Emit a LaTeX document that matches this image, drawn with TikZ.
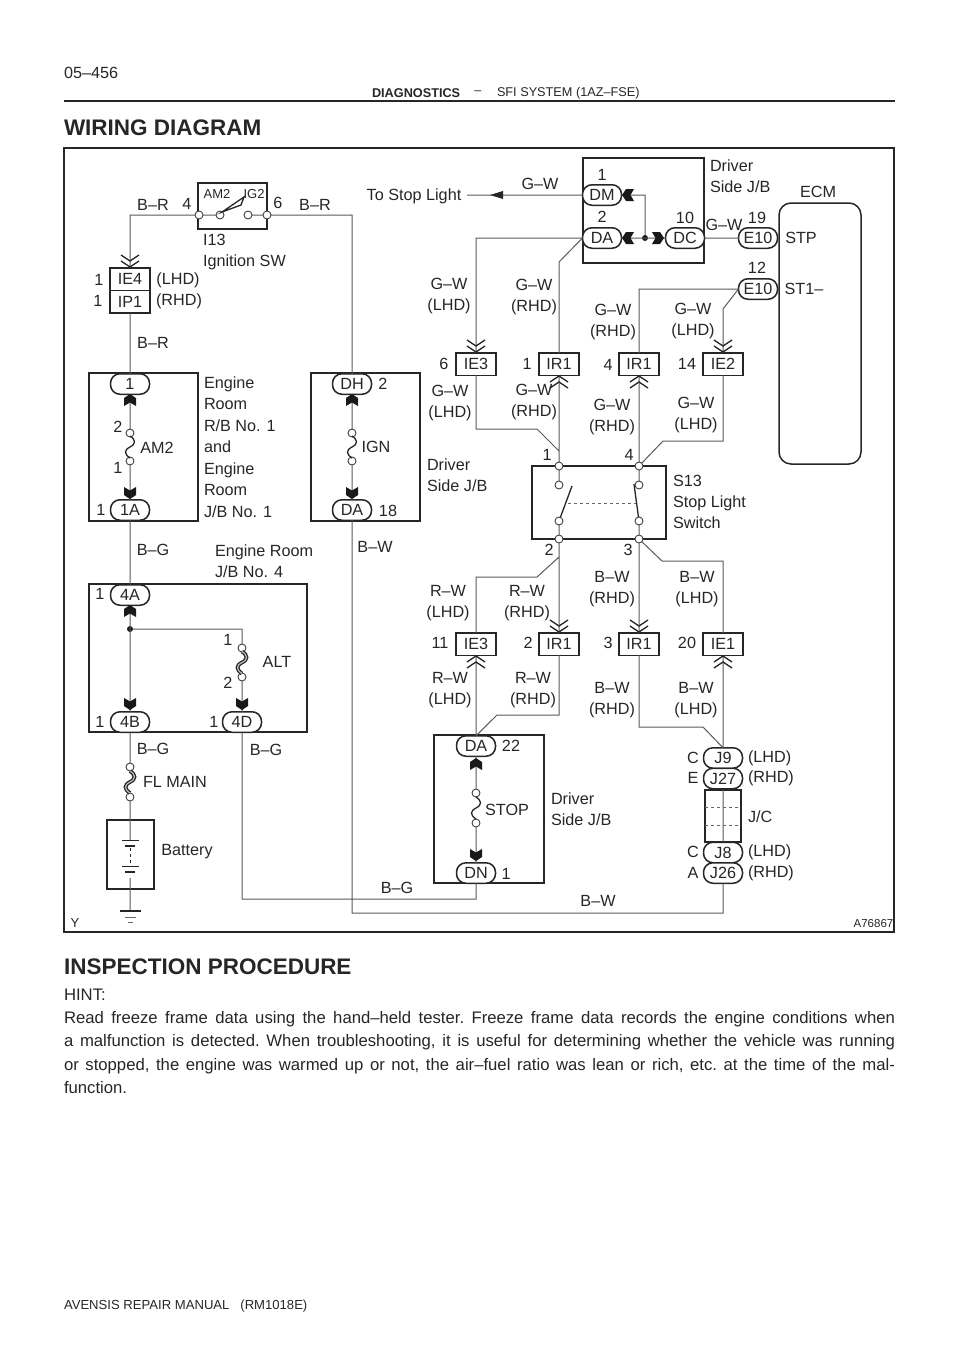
\documentclass[tikz,border=0pt]{standalone}
\usepackage{fontspec}
\setmainfont{Liberation Sans}
\usetikzlibrary{positioning}

\begin{document}
\begin{tikzpicture}[x=1pt, y=-1pt,
    every node/.style={text=black!85, inner sep=0pt, outer sep=0pt},
    lbl/.style={font=\fontsize{16.2}{21}\selectfont, align=center},
    lbll/.style={lbl, anchor=west, align=left},
    tiny/.style={font=\fontsize{13}{15}\selectfont},
    wire/.style={draw=black!65, line width=1pt},
    jbox/.style={rectangle, draw=black!85, line width=1.5pt},
    conn/.style={rectangle, draw=black!85, line width=1.5pt, fill=white, minimum width=40pt, minimum height=22.5pt, font=\fontsize{16.2}{18}\selectfont},
    pill/.style={rectangle, rounded corners=9.5pt, draw=black!85, line width=1.5pt, fill=white, minimum width=39pt, minimum height=20.5pt, font=\fontsize{16.2}{18}\selectfont},
    term/.style={circle, draw=black!75, line width=0.9pt, fill=white, minimum size=8pt},
    pics/chev/.style={code={
        \draw[black!85, line width=1.3pt] (-9,-12) -- (0,-6) -- (9,-12);
        \draw[black!85, line width=1.3pt] (-9,-6) -- (0,0) -- (9,-6);}},
    pics/plug/.style={code={
        \fill[black!90] (0,-6) -- (6,-2) -- (6,6) -- (0,2.5) -- (-6,6) -- (-6,-2) -- cycle;}},
    pics/fuse/.style={code={
        \draw[black!85, line width=1.3pt] (0,-11) .. controls (6,-7) and (6,-3) .. (0,0) .. controls (-6,3) and (-6,7) .. (0,11);}},
    pics/heavyfuse/.style={code={
        \draw[black!85, double=black!25, double distance=1.2pt, line width=1.3pt] (0,-11) .. controls (6,-7) and (6,-3) .. (0,0) .. controls (-6,3) and (-6,7) .. (0,11);}}
    ]

    \useasboundingbox (0,0) rectangle (960,1358);

    % page header
    \node[anchor=west, font=\fontsize{16.2}{18}\selectfont] (pagenum) at (64,73) {05–456};
    \node[anchor=west, font=\fontsize{12.7}{14}\selectfont\bfseries] (hdrA) at (372,93) {DIAGNOSTICS};
    \node[font=\fontsize{12.7}{14}\selectfont] (hdrB) at (478,93) {–};
    \node[anchor=west, font=\fontsize{12.7}{14}\selectfont] (hdrC) at (497,93) {SFI SYSTEM (1AZ–FSE)};
    \coordinate (ruleL) at (64,101);
    \coordinate (ruleR) at (895,101);
    \draw[black!85, line width=1.2pt] (ruleL) -- (ruleR);
    \node[anchor=west, font=\fontsize{22.5}{26}\selectfont\bfseries] (title) at (64,128) {WIRING DIAGRAM};

    % frame and boxes
    \node[jbox, minimum width=830pt, minimum height=784pt] (frame) at (479,540) {};
    \node[jbox, minimum width=69pt, minimum height=46pt] (swbox) at (232.5,206) {};
    \node[jbox, minimum width=109pt, minimum height=148pt] (rbone) at (143.5,447) {};
    \node[jbox, minimum width=109pt, minimum height=148pt] (ignbox) at (365.5,447) {};
    \node[jbox, minimum width=218pt, minimum height=148pt] (jbfour) at (198,658) {};
    \node[jbox, minimum width=47pt, minimum height=69pt] (batbox) at (130.5,854.5) {};
    \node[jbox, minimum width=121pt, minimum height=105pt] (dsjbA) at (643.5,210.5) {};
    \node[jbox, minimum width=134pt, minimum height=73pt] (s13box) at (599,502.5) {};
    \node[jbox, minimum width=110pt, minimum height=148pt] (dsjbB) at (489,809) {};
    \node[jbox, minimum width=36pt, minimum height=52pt] (jcbox) at (723,816) {};
    \node[jbox, rounded corners=12pt, minimum width=82pt, minimum height=261pt] (ecm) at (820,333.5) {};

    % connectors
    \node[conn] (ie4) at (130,279) {IE4};
    \node[conn] (ip1) at (130,301.5) {IP1};
    \node[conn] (ie3a) at (476,364) {IE3};
    \node[conn] (ir1a) at (559,364) {IR1};
    \node[conn] (ir1b) at (639,364) {IR1};
    \node[conn] (ie2) at (723,364) {IE2};
    \node[conn] (ie3b) at (476,644) {IE3};
    \node[conn] (ir1c) at (559,644) {IR1};
    \node[conn] (ir1d) at (639,644) {IR1};
    \node[conn] (ie1) at (723,644) {IE1};

    \node[pill] (pone) at (130,384) {1};
    \node[pill] (ponea) at (130,510) {1A};
    \node[pill] (pdh) at (352,384) {DH};
    \node[pill] (pdaign) at (352,510) {DA};
    \node[pill] (pfoura) at (130,595) {4A};
    \node[pill] (pfourb) at (130,722) {4B};
    \node[pill] (pfourd) at (242,722) {4D};
    \node[pill] (pdm) at (602,195) {DM};
    \node[pill] (pda) at (602,238) {DA};
    \node[pill] (pdc) at (685,238) {DC};
    \node[pill] (petop) at (758,238) {E10};
    \node[pill] (pebot) at (758,289) {E10};
    \node[pill] (pdastop) at (476,746) {DA};
    \node[pill] (pdn) at (476,873) {DN};
    \node[pill] (pjnine) at (723,758) {J9};
    \node[pill] (pjtw) at (723,778.5) {J27};
    \node[pill] (pjeight) at (723,852.5) {J8};
    \node[pill] (pjsix) at (723,873) {J26};

    % terminals
    \node[term] (swa) at (199,215) {};
    \node[term] (swb) at (220,215) {};
    \node[term] (swc) at (248,215) {};
    \node[term] (swd) at (267,215) {};
    \node[term] (fam) at (130,433) {};
    \node[term] (fama) at (130,461) {};
    \node[term] (fig) at (352,433) {};
    \node[term] (figa) at (352,461) {};
    \node[term] (falt) at (242,648) {};
    \node[term] (falta) at (242,677) {};
    \node[term] (ffl) at (130,767) {};
    \node[term] (ffla) at (130,797) {};
    \node[term] (fst) at (476,793) {};
    \node[term] (fsta) at (476,823) {};
    \node[term] (sone) at (559,466) {};
    \node[term] (sfour) at (639,466) {};
    \node[term] (stwo) at (559,539) {};
    \node[term] (sthree) at (639,539) {};
    \node[term] (sonei) at (559,485) {};
    \node[term] (sfouri) at (639,485) {};
    \node[term] (stwoi) at (559,521) {};
    \node[term] (sthreei) at (639,521) {};
    \node[circle, fill=black!90, minimum size=6pt] (dotalt) at (130,629) {};
    \node[circle, fill=black!90, minimum size=6pt] (dotdj) at (645,238) {};

    % free ends and bends
    \coordinate (stopend) at (467,195);
    \coordinate (bendda) at (559,262);
    \coordinate (bendeb) at (723,309);
    \coordinate (bendiea) at (537,429);
    \coordinate (bendieb) at (476,429);
    \coordinate (bendiee) at (559,451);
    \coordinate (bendiec) at (663,441);
    \coordinate (bendied) at (723,441);
    \coordinate (bendrwa) at (559,557);
    \coordinate (bendrwb) at (537,577);
    \coordinate (bendbwa) at (662,561);
    \coordinate (bendrwc) at (559,715);
    \coordinate (bendrwd) at (497,715);
    \coordinate (bendbwb) at (639,727);
    \coordinate (bendbwc) at (703,727);
    \coordinate (corbg) at (476,899);
    \coordinate (corbw) at (723,913);
    \coordinate (batA) at (130,840);
    \coordinate (batB) at (130,878);
    \coordinate (gnd) at (130,911);

    % wires
    \path[wire]
    (swa) -| (ie4.north)
    (ip1.south) -- (pone.north)
    (swd) -| (pdh.north)
    (swa) -- (swb)
    (swc) -- (swd)
    (pone.south) -- (fam)
    (fama) -- (ponea.north)
    (pdh.south) -- (fig)
    (figa) -- (pdaign.north)
    (ponea.south) -- (pfoura.north)
    (pfoura.south) -- (pfourb.north)
    (dotalt) -| (falt)
    (falta) -- (pfourd.north)
    (pfourb.south) -- (ffl)
    (ffla) -- (batA)
    (batB) -- (gnd)
    (pfourd.south) |- (corbg) -- (pdn.south)
    (pdaign.south) |- (corbw) -- (pjsix.south)
    (pdm.west) -- (stopend)
    (pdm.east) -| (dotdj)
    (pda.east) -- (pdc.west)
    (pdc.east) -- (petop.west)
    (pda.west) -| (ie3a.north)
    (pda.west) -- (bendda) -- (ir1a.north)
    (pebot.west) -| (ir1b.north)
    (pebot.west) -- (bendeb) -- (ie2.north)
    (ie3a.south) -- (bendieb) -- (bendiea) -- (bendiee)
    (ir1a.south) -- (sone)
    (ir1b.south) -- (sfour)
    (ie2.south) -- (bendied) -- (bendiec) -- (sfour)
    (sone) -- (sonei)
    (sfour) -- (sfouri)
    (stwoi) -- (stwo)
    (sthreei) -- (sthree)
    (stwo) -- (ir1c.north)
    (bendrwa) -- (bendrwb) -| (ie3b.north)
    (sthree) -- (ir1d.north)
    (sthree) -- (bendbwa) -| (ie1.north)
    (ie3b.south) -- (pdastop.north)
    (ir1c.south) -- (bendrwc) -- (bendrwd) -- (pdastop.north)
    (ie1.south) -- (pjnine.north)
    (ir1d.south) -- (bendbwb) -- (bendbwc) -- (pjnine.north)
    (pdastop.south) -- (fst)
    (fsta) -- (pdn.north)
    (jcbox.north) -- (jcbox.south);

    % ignition lever and stop light arrow
    \draw[black!85, line width=1.3pt, fill=white] (222,212) -- (244,197) -- (241,205) -- cycle;
    \fill[black!85] (490,195) -- (503,191) -- (503,199) -- cycle;

    % stop light switch
    \draw[black!85, line width=1.3pt] (stwoi) -- (572,486);
    \draw[black!85, line width=1.3pt] (sthreei) -- (634,484);
    \draw[black!60, line width=0.9pt, dashed] (568,503) -- (636,503);

    % junction connector dashes
    \draw[black!60, line width=0.9pt, dashed] (jcbox.west |- 0,807) -- (jcbox.east |- 0,807);
    \draw[black!60, line width=0.9pt, dashed] (jcbox.west |- 0,825) -- (jcbox.east |- 0,825);

    % battery and ground
    \draw[black!85, line width=1pt] (122,840) -- (139,840) (122,866) -- (139,866);
    \draw[black!85, line width=2pt] (125,846) -- (135,846) (125,872) -- (135,872);
    \fill[white] (128,841) rectangle (132,845);
    \draw[black!85, line width=0.8pt, dashed] (130,848) -- (130,864);
    \draw[black!85, line width=1.6pt] (120,911) -- (141,911);
    \draw[black!60, line width=0.8pt] (125,917) -- (136,917) (128,922) -- (133,922);

    % fuses
    \pic at (130,447) {fuse};
    \pic at (352,447) {fuse};
    \pic at (476,808) {fuse};
    \pic at (242,662.5) {heavyfuse};
    \pic at (130,782) {heavyfuse};

    % terminal tips of the fuse boxes
    \pic at (130,400) {plug};
    \pic[rotate=180] at (130,493) {plug};
    \pic at (352,400) {plug};
    \pic[rotate=180] at (352,493) {plug};
    \pic at (130,611) {plug};
    \pic[rotate=180] at (130,704) {plug};
    \pic[rotate=180] at (242,704) {plug};
    \pic at (476,764) {plug};
    \pic[rotate=180] at (476,855) {plug};
    \pic[rotate=90] at (628,195) {plug};
    \pic[rotate=90] at (628,238) {plug};
    \pic[rotate=-90] at (658,238) {plug};

    % chevrons at the in-line connectors
    \pic at (130,267) {chev};
    \pic at (476,352) {chev};
    \pic at (723,352) {chev};
    \pic[rotate=180] at (559,376) {chev};
    \pic[rotate=180] at (639,376) {chev};
    \pic at (559,632) {chev};
    \pic at (639,632) {chev};
    \pic[rotate=180] at (476,656) {chev};
    \pic[rotate=180] at (723,656) {chev};

    % left hand labels
    \node[lbl] (lbrA) at (153,205) {B–R};
    \node[lbl] (lfour) at (187,204) {4};
    \node[lbl] (lsix) at (278,203) {6};
    \node[lbl] (lbrB) at (315,205) {B–R};
    \node[tiny] (lam) at (217,194) {AM2};
    \node[tiny] (lig) at (254,194) {IG2};
    \node[lbll] (lign) at (203,252) {I13\\Ignition SW};
    \node[lbl] (lonea) at (99,280) {1};
    \node[lbl] (loneb) at (98,301) {1};
    \node[lbl] (llhda) at (178,280) {(LHD)};
    \node[lbl] (lrhda) at (179,301) {(RHD)};
    \node[lbl] (lbrC) at (153,343) {B–R};
    \node[lbll, font=\fontsize{16.2}{21.5}\selectfont] (lrbone) at (204,447) {Engine\\Room\\R/B No. 1\\and\\Engine\\Room\\J/B No. 1};
    \node[lbl] (ltwoa) at (118,427) {2};
    \node[lbl] (lonec) at (118,468) {1};
    \node[lbl] (lamf) at (157,448) {AM2};
    \node[lbl] (loned) at (101,510) {1};
    \node[lbl] (ltwob) at (383,384) {2};
    \node[lbl] (ligf) at (376,447) {IGN};
    \node[lbl] (lei) at (388,511) {18};
    \node[lbll] (ldsa) at (427,475.5) {Driver\\Side J/B};
    \node[lbl] (lbgA) at (153,550) {B–G};
    \node[lbll] (ljbf) at (215,561.5) {Engine Room\\J/B No. 4};
    \node[lbl] (lbwA) at (375,547) {B–W};
    \node[lbl] (lonee) at (100,594) {1};
    \node[lbl] (lonef) at (228,640) {1};
    \node[lbl] (laltf) at (277,662) {ALT};
    \node[lbl] (ltwoc) at (228,683) {2};
    \node[lbl] (loneg) at (100,722) {1};
    \node[lbl] (loneh) at (214,722) {1};
    \node[lbl] (lbgB) at (153,749) {B–G};
    \node[lbl] (lbgC) at (266,750) {B–G};
    \node[lbl] (lfl) at (175,782) {FL MAIN};
    \node[lbl] (lbat) at (187,852) {Battery};
    \node[lbl] (lbgD) at (397,888) {B–G};
    \node[lbl] (lbwB) at (598,901) {B–W};
    \node[tiny] (ly) at (75,923) {Y};
    \node[font=\fontsize{11.5}{13}\selectfont] (lart) at (873.5,924) {A76867};

    % upper right labels
    \node[lbl] (lstop) at (414,196) {To Stop Light};
    \node[lbl] (lgwA) at (540,184) {G–W};
    \node[lbl] (loni) at (602,175) {1};
    \node[lbl] (ltwod) at (602,217) {2};
    \node[lbl] (lten) at (685,218) {10};
    \node[lbll] (ldsb) at (710,176.5) {Driver\\Side J/B};
    \node[lbl] (lecm) at (818,192) {ECM};
    \node[lbl] (lgwB) at (724,225) {G–W};
    \node[lbl] (lnine) at (757,218) {19};
    \node[lbl] (ltw) at (757,268) {12};
    \node[lbl] (lstp) at (801,238) {STP};
    \node[lbl] (lstn) at (804,289) {ST1–};
    \node[lbl] (lgwC) at (449,296) {G–W\\(LHD)};
    \node[lbl] (lgwD) at (534,297) {G–W\\(RHD)};
    \node[lbl] (lgwE) at (613,322) {G–W\\(RHD)};
    \node[lbl] (lgwF) at (693,321) {G–W\\(LHD)};
    \node[lbl] (lsixa) at (444,364) {6};
    \node[lbl] (lonej) at (527,364) {1};
    \node[lbl] (lfoura) at (608,365) {4};
    \node[lbl] (lfourt) at (687,364) {14};
    \node[lbl] (lgwG) at (450,403) {G–W\\(LHD)};
    \node[lbl] (lgwH) at (534,402) {G–W\\(RHD)};
    \node[lbl] (lgwI) at (612,417) {G–W\\(RHD)};
    \node[lbl] (lgwJ) at (696,415) {G–W\\(LHD)};

    % switch and lower labels
    \node[lbl] (lonek) at (547,455) {1};
    \node[lbl] (lfourb) at (629,455) {4};
    \node[lbll] (lsth) at (673,501.5) {S13\\Stop Light\\Switch};
    \node[lbl] (ltwoe) at (549,550) {2};
    \node[lbl] (lthree) at (628,550) {3};
    \node[lbl] (lrwA) at (448,603) {R–W\\(LHD)};
    \node[lbl] (lrwB) at (527,603) {R–W\\(RHD)};
    \node[lbl] (lbwC) at (612,589) {B–W\\(RHD)};
    \node[lbl] (lbwD) at (697,589) {B–W\\(LHD)};
    \node[lbl] (lele) at (440,643) {11};
    \node[lbl] (ltwof) at (528,643) {2};
    \node[lbl] (lthreea) at (608,643) {3};
    \node[lbl] (ltwenty) at (687,643) {20};
    \node[lbl] (lrwC) at (450,690) {R–W\\(LHD)};
    \node[lbl] (lrwD) at (533,690) {R–W\\(RHD)};
    \node[lbl] (lbwE) at (612,700) {B–W\\(RHD)};
    \node[lbl] (lbwF) at (696,700) {B–W\\(LHD)};
    \node[lbl] (ltwt) at (511,746) {22};
    \node[lbl] (lstopf) at (507,810) {STOP};
    \node[lbll] (ldsc) at (551,809.5) {Driver\\Side J/B};
    \node[lbl] (lonel) at (506,874) {1};
    \node[lbl] (lca) at (693,758) {C};
    \node[lbl] (lea) at (693,778) {E};
    \node[lbl] (lcb) at (693,852) {C};
    \node[lbl] (laa) at (693,873) {A};
    \node[lbll] (llhdb) at (748,758) {(LHD)};
    \node[lbll] (lrhdb) at (748,778) {(RHD)};
    \node[lbll] (ljc) at (748,817) {J/C};
    \node[lbll] (llhdc) at (748,852) {(LHD)};
    \node[lbll] (lrhdc) at (748,873) {(RHD)};

    % text below the diagram
    \node[anchor=west, font=\fontsize{22.5}{26}\selectfont\bfseries] (insp) at (64,967) {INSPECTION PROCEDURE};
    \node[anchor=north west, text width=831pt, align=justify, font=\fontsize{16.7}{23.2}\selectfont\frenchspacing] (proc) at (64,989) {HINT:\linebreak
    Read freeze frame data using the hand–held tester. Freeze frame data records the engine conditions when\linebreak
    a malfunction is detected. When troubleshooting, it is useful for determining whether the vehicle was running\linebreak
    or stopped, the engine was warmed up or not, the air–fuel ratio was lean or rich, etc. at the time of the mal-\linebreak
    function.};
    \node[anchor=west, font=\fontsize{13.1}{15}\selectfont] (foot) at (64,1306) {AVENSIS REPAIR MANUAL\ \ \ (RM1018E)};

\end{tikzpicture}
\end{document}
